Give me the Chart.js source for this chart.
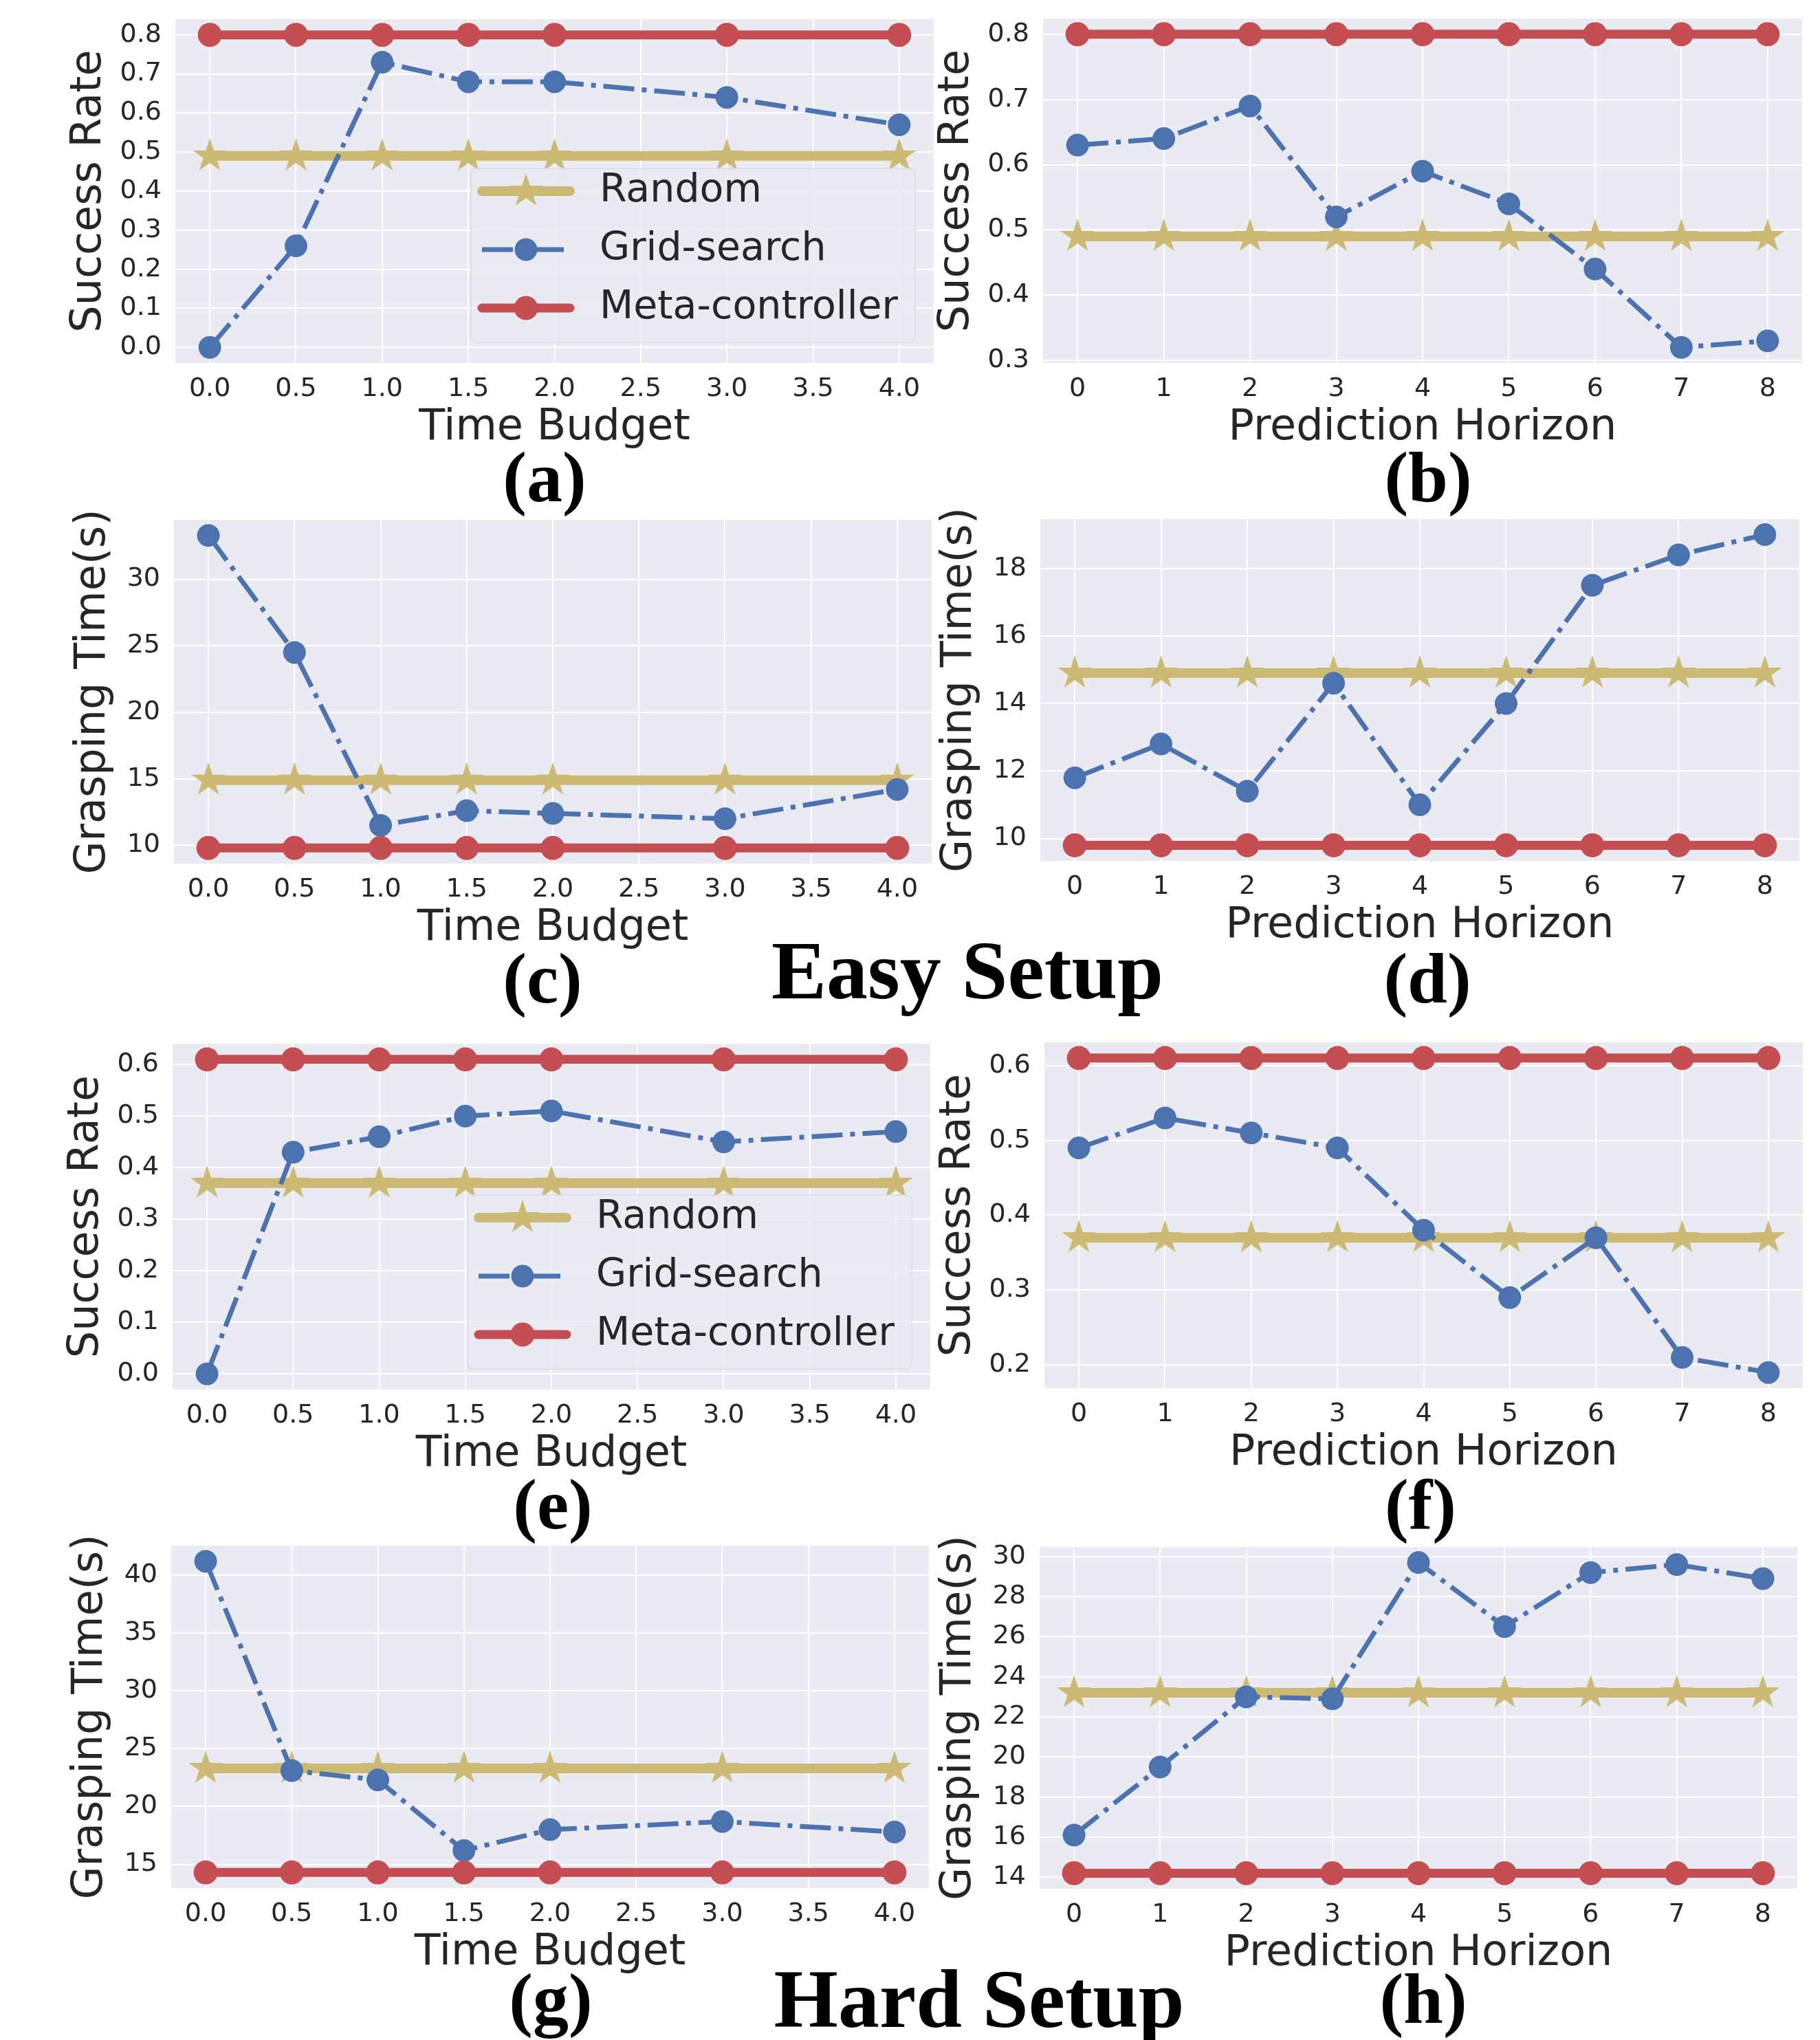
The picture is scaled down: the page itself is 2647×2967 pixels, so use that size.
<!DOCTYPE html>
<html>
<head>
<meta charset="utf-8">
<script src="https://cdn.jsdelivr.net/npm/chart.js@4.4.1/dist/chart.umd.min.js"></script>
<style>
  body { margin: 0; background: #fff; width: 2647px; height: 2967px; position: relative; overflow: hidden; }
  .panel { position: absolute; }
  .tag { position: absolute; font: bold 104px "Liberation Serif", "Times New Roman", serif; line-height: 1; color: #000; transform: translateX(-50%); white-space: nowrap; z-index: 5; }
  .setup { font-size: 120px; }
</style>
</head>
<body>
<script>
const budget = [0, 0.5, 1, 1.5, 2, 3, 4];
const horizon = [0, 1, 2, 3, 4, 5, 6, 7, 8];
const budgetTicks = [0, 0.5, 1, 1.5, 2, 2.5, 3, 3.5, 4];
const horizonTicks = [0, 1, 2, 3, 4, 5, 6, 7, 8];
const seriesNames = ["Random", "Grid-search", "Meta-controller"];

// Easy setup
const aRandom = [0.49, 0.49, 0.49, 0.49, 0.49, 0.49, 0.49];
const aGrid = [0.0, 0.26, 0.73, 0.68, 0.68, 0.64, 0.57];
const aMeta = [0.8, 0.8, 0.8, 0.8, 0.8, 0.8, 0.8];
const aYTicks = [0, 0.1, 0.2, 0.3, 0.4, 0.5, 0.6, 0.7, 0.8];

const bRandom = [0.49, 0.49, 0.49, 0.49, 0.49, 0.49, 0.49, 0.49, 0.49];
const bGrid = [0.63, 0.64, 0.69, 0.52, 0.59, 0.54, 0.44, 0.32, 0.33];
const bMeta = [0.8, 0.8, 0.8, 0.8, 0.8, 0.8, 0.8, 0.8, 0.8];
const bYTicks = [0.3, 0.4, 0.5, 0.6, 0.7, 0.8];

const cRandom = [14.9, 14.9, 14.9, 14.9, 14.9, 14.9, 14.9];
const cGrid = [33.3, 24.5, 11.5, 12.6, 12.4, 12.0, 14.2];
const cMeta = [9.8, 9.8, 9.8, 9.8, 9.8, 9.8, 9.8];
const cYTicks = [10, 15, 20, 25, 30];

const dRandom = [14.9, 14.9, 14.9, 14.9, 14.9, 14.9, 14.9, 14.9, 14.9];
const dGrid = [11.8, 12.8, 11.4, 14.6, 11.0, 14.0, 17.5, 18.4, 19.0];
const dMeta = [9.8, 9.8, 9.8, 9.8, 9.8, 9.8, 9.8, 9.8, 9.8];
const dYTicks = [10, 12, 14, 16, 18];

// Hard setup
const eRandom = [0.37, 0.37, 0.37, 0.37, 0.37, 0.37, 0.37];
const eGrid = [0.0, 0.43, 0.46, 0.50, 0.51, 0.45, 0.47];
const eMeta = [0.61, 0.61, 0.61, 0.61, 0.61, 0.61, 0.61];
const eYTicks = [0, 0.1, 0.2, 0.3, 0.4, 0.5, 0.6];

const fRandom = [0.37, 0.37, 0.37, 0.37, 0.37, 0.37, 0.37, 0.37, 0.37];
const fGrid = [0.49, 0.53, 0.51, 0.49, 0.38, 0.29, 0.37, 0.21, 0.19];
const fMeta = [0.61, 0.61, 0.61, 0.61, 0.61, 0.61, 0.61, 0.61, 0.61];
const fYTicks = [0.2, 0.3, 0.4, 0.5, 0.6];

const gRandom = [23.3, 23.3, 23.3, 23.3, 23.3, 23.3, 23.3];
const gGrid = [41.2, 23.1, 22.3, 16.2, 18.0, 18.7, 17.8];
const gMeta = [14.3, 14.3, 14.3, 14.3, 14.3, 14.3, 14.3];
const gYTicks = [15, 20, 25, 30, 35, 40];

const hRandom = [23.2, 23.2, 23.2, 23.2, 23.2, 23.2, 23.2, 23.2, 23.2];
const hGrid = [16.1, 19.5, 23.0, 22.9, 29.7, 26.5, 29.2, 29.6, 28.9];
const hMeta = [14.2, 14.2, 14.2, 14.2, 14.2, 14.2, 14.2, 14.2, 14.2];
const hYTicks = [14, 16, 18, 20, 22, 24, 26, 28, 30];

// layout: plot rectangle [left, top, right, bottom] in page pixels
const panels = [
  { xs: budget, xTicks: budgetTicks, xDec: 1, xTitle: "Time Budget", yTitle: "Success Rate", yTicks: aYTicks, yDec: 1, series: [aRandom, aGrid, aMeta], legend: true, rect: [255, 28, 1358, 528], gap: 125 },
  { xs: horizon, xTicks: horizonTicks, xDec: 0, xTitle: "Prediction Horizon", yTitle: "Success Rate", yTicks: bYTicks, yDec: 1, series: [bRandom, bGrid, bMeta], legend: false, rect: [1517, 27, 2621, 528], gap: 125 },
  { xs: budget, xTicks: budgetTicks, xDec: 1, xTitle: "Time Budget", yTitle: "Grasping Time(s)", yTicks: cYTicks, yDec: 0, series: [cRandom, cGrid, cMeta], legend: false, rect: [253, 756, 1355, 1256], gap: 117 },
  { xs: horizon, xTicks: horizonTicks, xDec: 0, xTitle: "Prediction Horizon", yTitle: "Grasping Time(s)", yTicks: dYTicks, yDec: 0, series: [dRandom, dGrid, dMeta], legend: false, rect: [1513, 755, 2617, 1252], gap: 117 },
  { xs: budget, xTicks: budgetTicks, xDec: 1, xTitle: "Time Budget", yTitle: "Success Rate", yTicks: eYTicks, yDec: 1, series: [eRandom, eGrid, eMeta], legend: true, rect: [251, 1518, 1353, 2021], gap: 125 },
  { xs: horizon, xTicks: horizonTicks, xDec: 0, xTitle: "Prediction Horizon", yTitle: "Success Rate", yTicks: fYTicks, yDec: 1, series: [fRandom, fGrid, fMeta], legend: false, rect: [1519, 1516, 2622, 2019], gap: 125 },
  { xs: budget, xTicks: budgetTicks, xDec: 1, xTitle: "Time Budget", yTitle: "Grasping Time(s)", yTicks: gYTicks, yDec: 0, series: [gRandom, gGrid, gMeta], legend: false, rect: [249, 2248, 1351, 2746], gap: 117 },
  { xs: horizon, xTicks: horizonTicks, xDec: 0, xTitle: "Prediction Horizon", yTitle: "Grasping Time(s)", yTicks: hYTicks, yDec: 0, series: [hRandom, hGrid, hMeta], legend: false, rect: [1512, 2250, 2614, 2747], gap: 117 },
];

const tags = [
  ["(a)", 792, 642, ""], ["(b)", 2077, 642, ""],
  ["(c)", 789, 1371, ""], ["(d)", 2076, 1371, ""],
  ["Easy Setup", 1407, 1352, "setup"],
  ["(e)", 804, 2136, ""], ["(f)", 2066, 2136, ""],
  ["(g)", 801, 2855, ""], ["(h)", 2070, 2855, ""],
  ["Hard Setup", 1424, 2848, "setup"],
];

const colors = ["#CCB974", "#4C72B0", "#C44E52"];
// canvas margins round the plot rectangle; top must exceed the y-label overhang chart.js reserves
const padL = 200, padT = 60, padR = 40, padB = 150;

Chart.defaults.font.family = "'DejaVu Sans', sans-serif";
Chart.defaults.color = "#262626";

function makeStar(r, color) {
  const c = document.createElement("canvas");
  c.width = c.height = Math.ceil(r * 2) + 2;
  const g = c.getContext("2d");
  g.translate(c.width / 2, c.height / 2);
  g.beginPath();
  for (let i = 0; i < 10; i++) {
    const rad = i % 2 ? r * 0.382 : r;
    const ang = -Math.PI / 2 + i * Math.PI / 5;
    g.lineTo(rad * Math.cos(ang), rad * Math.sin(ang));
  }
  g.closePath();
  g.fillStyle = color;
  g.fill();
  return c;
}
const star = makeStar(26, colors[0]);

// same 5% margins matplotlib puts round the data
function range(values) {
  const lo = Math.min(...values), hi = Math.max(...values);
  const m = (hi - lo) * 0.05;
  return [lo - m, hi + m];
}

const plotBackground = {
  id: "plotBackground",
  beforeDraw(chart) {
    const { ctx, chartArea: a } = chart;
    ctx.save();
    ctx.fillStyle = "#EAEAF2";
    ctx.fillRect(a.left, a.top, a.right - a.left, a.bottom - a.top);
    ctx.restore();
  },
};

const insideLegend = {
  id: "insideLegend",
  afterDatasetsDraw(chart, args, opts) {
    if (!opts.show) return;
    const { ctx, chartArea: a } = chart;
    const w = 646, h = 253;
    const left = a.right - 27 - w, top = a.bottom - 30 - h;
    ctx.save();
    ctx.beginPath();
    ctx.roundRect(left, top, w, h, 8);
    ctx.fillStyle = "rgba(234,234,242,0.8)";
    ctx.fill();
    ctx.strokeStyle = "rgba(214,214,222,0.8)";
    ctx.lineWidth = 1.5;
    ctx.stroke();
    chart.data.datasets.forEach((ds, i) => {
      const y = top + 33 + i * 85;
      ctx.strokeStyle = ds.borderColor;
      ctx.lineWidth = ds.borderWidth;
      ctx.lineCap = ds.borderDash ? "butt" : "round";
      ctx.setLineDash(ds.borderDash || []);
      ctx.beginPath();
      ctx.moveTo(left + 16, y);
      ctx.lineTo(left + 144, y);
      ctx.stroke();
      ctx.setLineDash([]);
      if (ds.pointStyle === star) {
        ctx.drawImage(star, left + 80 - star.width / 2, y - star.height / 2);
      } else {
        ctx.fillStyle = ds.borderColor;
        ctx.beginPath();
        ctx.arc(left + 80, y, ds.pointRadius, 0, Math.PI * 2);
        ctx.fill();
      }
      ctx.fillStyle = "#262626";
      ctx.font = "57px 'DejaVu Sans'";
      ctx.textBaseline = "middle";
      ctx.textAlign = "left";
      ctx.fillText(ds.label, left + 187, y);
    });
    ctx.restore();
  },
};

panels.forEach((p) => {
  const [l, t, r, b] = p.rect;
  const box = document.createElement("div");
  box.className = "panel";
  box.style.left = (l - padL) + "px";
  box.style.top = (t - padT) + "px";
  box.style.width = (r - l + padL + padR) + "px";
  box.style.height = (b - t + padT + padB) + "px";
  const canvas = document.createElement("canvas");
  box.appendChild(canvas);
  document.body.appendChild(box);

  const xr = range(p.xs);
  const yr = range(p.series.flat());
  const points = (ys) => p.xs.map((x, i) => ({ x: x, y: ys[i] }));

  new Chart(canvas.getContext("2d"), {
    type: "line",
    data: {
      datasets: [
        {
          label: seriesNames[0],
          data: points(p.series[0]),
          borderColor: colors[0],
          backgroundColor: colors[0],
          borderWidth: 14,
          borderCapStyle: "round",
          pointStyle: star,
          pointRadius: 26,
          clip: false,
          order: 3,
        },
        {
          label: seriesNames[1],
          data: points(p.series[1]),
          borderColor: colors[1],
          backgroundColor: colors[1],
          borderWidth: 7,
          borderDash: [45, 11, 7, 11],
          pointStyle: "circle",
          pointRadius: 16.5,
          pointBorderWidth: 0,
          pointBackgroundColor: colors[1],
          clip: false,
          order: 2,
        },
        {
          label: seriesNames[2],
          data: points(p.series[2]),
          borderColor: colors[2],
          backgroundColor: colors[2],
          borderWidth: 13,
          borderCapStyle: "round",
          pointStyle: "circle",
          pointRadius: 17.5,
          pointBorderWidth: 0,
          pointBackgroundColor: colors[2],
          clip: false,
          order: 1,
        },
      ],
    },
    options: {
      responsive: true,
      maintainAspectRatio: false,
      animation: false,
      events: [],
      layout: { padding: { left: 0, top: padT, right: padR, bottom: 0 } },
      plugins: {
        legend: { display: false },
        tooltip: { enabled: false },
        insideLegend: { show: p.legend },
      },
      scales: {
        x: {
          type: "linear",
          min: xr[0],
          max: xr[1],
          afterBuildTicks: (s) => { s.ticks = p.xTicks.map((v) => ({ value: v })); },
          afterFit: (s) => { s.height = padB; },
          grid: { color: "#ffffff", lineWidth: 2, drawTicks: false },
          border: { display: false },
          ticks: {
            autoSkip: false,
            maxRotation: 0,
            minRotation: 0,
            padding: 15,
            font: { size: 38 },
            color: "#262626",
            callback: (v) => Number(v).toFixed(p.xDec),
          },
          title: {
            display: true,
            text: p.xTitle,
            font: { size: 62 },
            color: "#262626",
            padding: { top: 0, bottom: 18 },
          },
        },
        y: {
          type: "linear",
          min: yr[0],
          max: yr[1],
          afterBuildTicks: (s) => { s.ticks = p.yTicks.map((v) => ({ value: v })); },
          afterFit: (s) => { s.width = padL; },
          grid: { color: "#ffffff", lineWidth: 2, drawTicks: false },
          border: { display: false },
          ticks: {
            autoSkip: false,
            padding: 20,
            font: { size: 38 },
            color: "#262626",
            callback: (v) => Number(v).toFixed(p.yDec),
          },
          title: {
            display: true,
            text: p.yTitle,
            font: { size: 62 },
            color: "#262626",
            padding: { top: padL - p.gap - 37.2, bottom: 0 },
          },
        },
      },
    },
    plugins: [plotBackground, insideLegend],
  });
});

tags.forEach(([text, x, y, cls]) => {
  const d = document.createElement("div");
  d.className = "tag " + cls;
  d.style.left = x + "px";
  d.style.top = y + "px";
  d.textContent = text;
  document.body.appendChild(d);
});
</script>
</body>
</html>
